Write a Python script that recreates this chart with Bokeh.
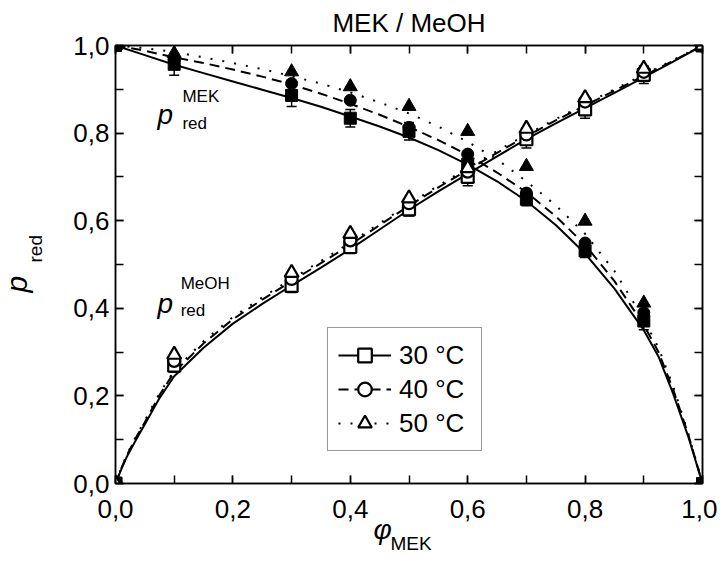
import math
from bokeh.plotting import figure
from bokeh.models import (Range1d, LinearAxis, SingleIntervalTicker, CustomJSTickFormatter,
                          Label, Legend, LegendItem, Whisker, TeeHead, ColumnDataSource, Title)
from bokeh.embed import file_html
from bokeh.resources import INLINE

# ---- data: measured points ----
phi = [0.0, 0.1, 0.3, 0.4, 0.5, 0.6, 0.7, 0.8, 0.9, 1.0]
mek_30 = [1.0, 0.957, 0.886, 0.834, 0.804, 0.729, 0.649, 0.531, 0.371, 0.0]
mek_40 = [1.0, 0.968, 0.913, 0.875, 0.813, 0.752, 0.663, 0.549, 0.390, 0.0]
mek_50 = [1.0, 0.982, 0.940, 0.906, 0.861, 0.804, 0.724, 0.599, 0.412, 0.0]
meoh_30 = [0.0, 0.269, 0.451, 0.540, 0.626, 0.700, 0.786, 0.854, 0.933, 1.0]
meoh_40 = [0.0, 0.280, 0.467, 0.555, 0.640, 0.712, 0.797, 0.872, 0.940, 1.0]
meoh_50 = [0.0, 0.294, 0.481, 0.570, 0.651, 0.720, 0.810, 0.880, 0.947, 1.0]
err_mek_30 = [0.005, 0.025, 0.025, 0.020, 0.020, 0.020, 0.015, 0.015, 0.020, 0.0]
err_meoh_30 = [0.005, 0.015, 0.015, 0.015, 0.015, 0.020, 0.020, 0.020, 0.020, 0.005]

# ---- data: fitted curves ----
fit_phi_mek = [0.0, 0.05, 0.1, 0.15, 0.2, 0.25, 0.3, 0.35, 0.4, 0.45, 0.5, 0.55, 0.6, 0.65,
               0.7, 0.75, 0.8, 0.85, 0.9, 0.925, 0.95, 0.975, 1.0]
fit_mek_30 = [1.0, 0.978, 0.956, 0.937, 0.918, 0.899, 0.880, 0.860, 0.838, 0.815, 0.790, 0.761,
              0.728, 0.690, 0.645, 0.590, 0.525, 0.445, 0.350, 0.290, 0.205, 0.110, 0.0]
fit_mek_40 = [1.0, 0.988, 0.973, 0.960, 0.945, 0.929, 0.911, 0.890, 0.867, 0.842, 0.814, 0.784,
              0.750, 0.710, 0.665, 0.610, 0.545, 0.462, 0.362, 0.300, 0.215, 0.115, 0.0]
fit_mek_50 = [1.0, 0.994, 0.985, 0.973, 0.960, 0.946, 0.930, 0.913, 0.893, 0.870, 0.845, 0.815,
              0.780, 0.740, 0.690, 0.635, 0.570, 0.485, 0.375, 0.310, 0.222, 0.118, 0.0]
fit_phi_meoh = [0.0, 0.01, 0.02, 0.035, 0.05, 0.075, 0.1, 0.15, 0.2, 0.25, 0.3, 0.35, 0.4, 0.45,
                0.5, 0.55, 0.6, 0.65, 0.7, 0.75, 0.8, 0.85, 0.9, 0.95, 1.0]
fit_meoh_30 = [0.0, 0.033, 0.063, 0.100, 0.135, 0.195, 0.245, 0.310, 0.365, 0.410, 0.452, 0.493,
               0.535, 0.580, 0.625, 0.667, 0.707, 0.747, 0.786, 0.822, 0.857, 0.892, 0.927, 0.963, 1.0]
fit_meoh_40 = [0.0, 0.035, 0.066, 0.105, 0.140, 0.202, 0.254, 0.320, 0.375, 0.420, 0.462, 0.503,
               0.545, 0.590, 0.634, 0.676, 0.716, 0.755, 0.793, 0.829, 0.863, 0.897, 0.931, 0.965, 1.0]
fit_meoh_50 = [0.0, 0.036, 0.068, 0.108, 0.144, 0.206, 0.258, 0.325, 0.380, 0.425, 0.467, 0.508,
               0.550, 0.594, 0.638, 0.680, 0.720, 0.759, 0.797, 0.832, 0.866, 0.900, 0.933, 0.967, 1.0]

temps = ["30 °C", "40 °C", "50 °C"]
title_text = "MEK / MeOH"

FONT = "Liberation Sans"

p = figure(width=717, height=556, x_range=Range1d(0, 1), y_range=Range1d(0, 1),
           output_backend="svg", toolbar_location=None,
           min_border_left=115, min_border_right=15, min_border_top=44, min_border_bottom=73)
p.xgrid.visible = False
p.ygrid.visible = False
p.outline_line_color = "black"
p.outline_line_width = 1.5

x_bottom = p.below[0]
y_left = p.left[0]
extra_top = LinearAxis()
extra_right = LinearAxis()
p.add_layout(extra_top, "above")
p.add_layout(extra_right, "right")

def style(ax, labels=True, standoff=10):
    ax.ticker = SingleIntervalTicker(interval=0.2, num_minor_ticks=2)
    ax.axis_line_width = 1.5
    ax.axis_line_color = "black"
    ax.major_tick_in = 8
    ax.major_tick_out = 0
    ax.minor_tick_in = 8
    ax.minor_tick_out = 0
    ax.major_tick_line_width = 1.5
    ax.minor_tick_line_width = 1.5
    ax.major_tick_line_color = "black"
    ax.minor_tick_line_color = "black"
    ax.major_label_text_font = FONT
    ax.major_label_text_color = "black"
    if labels:
        ax.major_label_text_font_size = "26px"
        ax.major_label_standoff = standoff
        ax.formatter = CustomJSTickFormatter(code="return tick.toFixed(1).replace('.', ',');")
    else:
        ax.major_label_text_font_size = "0px"
        ax.major_label_standoff = 0
        ax.formatter = CustomJSTickFormatter(code="return '';")

style(x_bottom, standoff=16)
style(y_left, standoff=6)
style(extra_top, labels=False)
style(extra_right, labels=False)

dashes = ["solid", "10 6", "2 10"]
fits_mek = [fit_mek_30, fit_mek_40, fit_mek_50]
fits_meoh = [fit_meoh_30, fit_meoh_40, fit_meoh_50]
pts_mek = [mek_30, mek_40, mek_50]
pts_meoh = [meoh_30, meoh_40, meoh_50]
markers = ["square", "circle", "triangle"]
sizes = [12, 12, 14]

lines = []
for i in range(3):
    p.line(fit_phi_mek, fits_mek[i], line_color="black", line_width=2, line_dash=dashes[i])
    ln = p.line(fit_phi_meoh, fits_meoh[i], line_color="black", line_width=2, line_dash=dashes[i])
    lines.append(ln)

# error bars for 30 °C
src_e1 = ColumnDataSource(dict(x=phi, lo=[a - b for a, b in zip(mek_30, err_mek_30)],
                               hi=[a + b for a, b in zip(mek_30, err_mek_30)]))
src_e2 = ColumnDataSource(dict(x=phi, lo=[a - b for a, b in zip(meoh_30, err_meoh_30)],
                               hi=[a + b for a, b in zip(meoh_30, err_meoh_30)]))
for s in (src_e1, src_e2):
    w = Whisker(source=s, base="x", lower="lo", upper="hi", line_width=1.5, line_color="black",
                upper_head=TeeHead(size=10, line_width=1.5), lower_head=TeeHead(size=10, line_width=1.5))
    p.add_layout(w)

open_r = []
for i in range(3):
    p.scatter(phi, pts_mek[i], marker=markers[i], size=sizes[i], fill_color="black", line_color="black")
    r = p.scatter(phi, pts_meoh[i], marker=markers[i], size=sizes[i], fill_color="white",
                  line_color="black", line_width=2.2)
    open_r.append(r)

legend = Legend(items=[LegendItem(label=temps[i], renderers=[lines[i], open_r[i]]) for i in range(3)],
                location=(212, 32))
legend.label_text_font = FONT
legend.label_text_font_size = "26px"
legend.label_text_color = "black"
legend.glyph_width = 53
legend.glyph_height = 34
legend.label_height = 34
legend.label_width = 72
legend.label_standoff = 8
legend.spacing = 0
legend.padding = 10
legend.margin = 0
legend.border_line_color = "#333333"
legend.border_line_width = 1.5
legend.background_fill_alpha = 1
p.add_layout(legend)

def lab(x, y, text, size, style="normal", align="left"):
    p.add_layout(Label(x=x, y=y, text=text, text_font=FONT, text_font_size=size,
                       text_font_style=style, text_align=align, text_baseline="middle",
                       text_color="black"))

# inner curve labels
lab(0.085, 0.843, "p", "28px", "italic", "center")
lab(0.114, 0.884, "MEK", "17px")
lab(0.114, 0.822, "red", "17px")
lab(0.085, 0.412, "p", "28px", "italic", "center")
lab(0.111, 0.456, "MeOH", "17px")
lab(0.111, 0.394, "red", "17px")

# title
p.title.text = title_text
p.title.text_font = FONT
p.title.text_font_size = "26px"
p.title.text_font_style = "normal"
p.title.text_color = "black"
p.title.align = "center"
p.title.vertical_align = "middle"
p.title.standoff = 13

def side_title(text, size, style, side, valign, standoff, offset):
    t = Title(text=text, text_font=FONT, text_font_size=size, text_font_style=style,
              text_color="black", align="left", vertical_align=valign,
              standoff=standoff, offset=offset)
    p.add_layout(t, side)

# y-axis label: p_red (rotated)
side_title("red", "19px", "normal", "left", "top", 43.8, 221)
side_title("p", "30px", "italic", "left", "bottom", -59.4, 191)
# x-axis label: phi_MEK
side_title("φ", "28px", "italic", "below", "top", -12.6, 258)
side_title("MEK", "19px", "normal", "below", "top", -15.2, 275)

open("out.html", "w").write(file_html(p, INLINE))
